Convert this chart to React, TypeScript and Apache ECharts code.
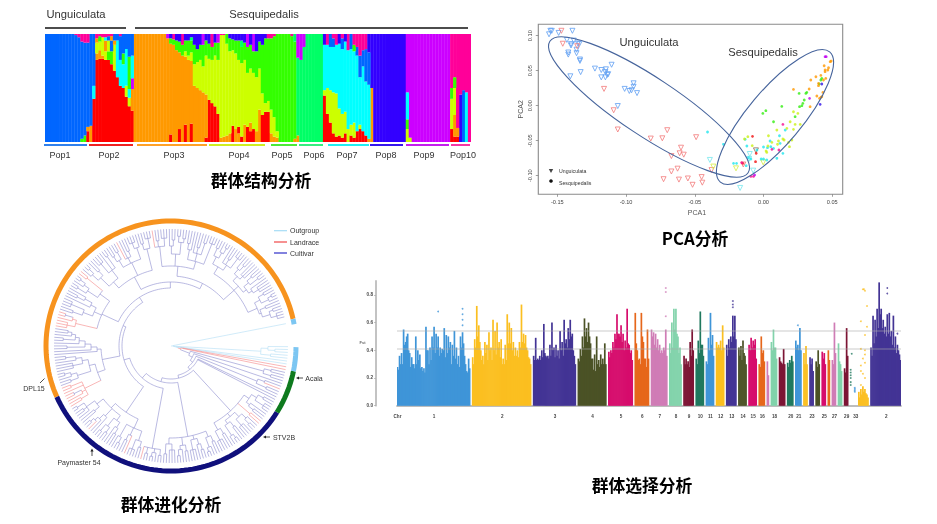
import React, { useEffect, useRef } from "react";
import * as echarts from "echarts";

/* ---------- Panel 1: population structure (segments bottom-to-top, "*n" repeats a column) ---------- */
const ancestryColors: Record<string, string> = {
  r: "#FF0000", o: "#FF9900", l: "#CCFF00", g: "#33FF00", s: "#00FF66",
  c: "#00FFFF", b: "#0066FF", u: "#3300FF", v: "#CC00FF", m: "#FF0099",
};
const pop1Columns = ["b100*10", "b99 m1", "b97 m3", "g3 b90 m7", "g6 b86 m8", "r10 o4 b78 m8", "o15 b85"];
const pop2Columns = ["r40 c12 b48", "r76 o6 l10 o4 m4", "r77 o8 l8 g5 m2", "r77 o3 l17 m3", "r76 l8 o10 c3 m3", "r76 g8 l10 b4 m2", "r72 g12 b10 o4 m2", "r66 l24 o4 b6", "r60 c34 b6", "r52 c24 b22 m2", "r50 c22 g10 b18", "r42 l10 c34 b14", "r33 l8 c8 g30 b21", "r29 o20 v10 c21 b20"];
const pop3Columns = ["o100*11", "o96 v4", "r7 o84 g5 u4", "o90 g5 m5", "o85 g9 u6", "r12 o71 g10 u7", "o80 g10 m10", "r16 o63 l5 g10 u6", "o76 l4 g14 u6", "r17 o58 l8 g11 s3 u3", "o52 l20 g18 u10", "o50 l24 g12 u14", "o48 l28 g14 u10", "o46 l24 g20 v10", "r4 o40 l36 g14 u6"];
const pop4Columns = ["r39 l38 g14 u9", "r36 l40 g12 m12", "r33 l47 g12 u8", "r26 l50 g16 v8", "o4 l95 m1", "o5 l94 m1", "o6 l85 g9", "o8 l76 g12 u4", "r15 l70 g10 u5", "o12 l70 g12 u6", "o8 r6 l62 g18 u6", "r5 l68 g15 s6 u6", "o16 l60 g16 u8", "r14 l50 g24 v12", "r10 o8 l50 g22 u10", "r12 l52 g20 v16", "o10 l50 g24 u16", "o30 l38 g25 u7", "r25 l20 g45 u10", "r28 l8 g60 u4"];
const pop5Columns = ["r28 l10 g58 m4", "o8 l22 g66 m4", "o5 l18 g75 m2", "o4 l6 g90", "g100*4", "g98 m2", "o3 g90 s7"];
const pop6Columns = ["o6 s72 v22", "s76 v24", "s88 v12", "s100*6"];
const pop7Columns = ["r43 l5 c42 u10", "r26 l24 c40 m10", "r18 l30 c40 b12", "r8 l38 c42 b8 m4", "r5 l40 c45 m10", "r6 l25 c60 u9", "r4 l22 c60 b10 m4", "r8 l20 c65 u7", "l12 c73 m15", "r6 l10 c70 b14", "r4 l14 c66 g6 m10", "r10 c70 b8 m12", "r12 l4 c44 b20 m20", "r10 c60 b15 m15", "r6 c50 b30 m14", "o3 c50 b30 u17"];
const pop8Columns = ["o50 u50", "u100*11"];
const pop9Columns = ["l12 g9 c25 v54", "l4 v96", "v100*13"];
const pop10Columns = ["r12 l28 g10 m50", "r5 o20 l25 g10 m40", "r5 o8 m87", "u44 m56", "b48 m52", "c46 m54", "m100"];

const popNames = ["Pop1", "Pop2", "Pop3", "Pop4", "Pop5", "Pop6", "Pop7", "Pop8", "Pop9", "Pop10"];
const popLineColors = ["#2f80ed", "#f02020", "#ffa126", "#cfee20", "#38e820", "#20ec70", "#20eef0", "#3515ee", "#c41cee", "#f5209a"];
const popLineSpans = [[44, 87], [89, 133], [137, 207], [209, 265], [271, 297], [299, 323], [328, 369], [370, 403], [406, 449], [451, 470]];
const popLabelCenters = [60, 109, 174, 239, 282, 314, 347, 386, 424, 463];

/* ---------- Panel 2: PCA ---------- */
type P = [number, number];
const triBlue: P[] = [[-0.155, 0.107], [-0.154, 0.107], [-0.156, 0.102], [-0.149, 0.104], [-0.139, 0.107], [-0.143, 0.094], [-0.138, 0.093], [-0.14, 0.088], [-0.14, 0.086], [-0.135, 0.089], [-0.134, 0.088], [-0.136, 0.08], [-0.136, 0.075], [-0.142, 0.076], [-0.142, 0.073], [-0.1335, 0.066], [-0.1335, 0.064], [-0.133, 0.048], [-0.1405, 0.042], [-0.1226, 0.053], [-0.118, 0.051], [-0.1146, 0.052], [-0.115, 0.048], [-0.113, 0.045], [-0.1136, 0.044], [-0.118, 0.0405], [-0.115, 0.0405], [-0.1105, 0.0585], [-0.101, 0.024], [-0.0976, 0.021], [-0.096, 0.022], [-0.0945, 0.032], [-0.0945, 0.027], [-0.092, 0.018], [-0.106, -0.0005]];
const triRed: P[] = [[-0.147, 0.107], [-0.146, 0.0885], [-0.1355, 0.085], [-0.116, 0.024], [-0.109, -0.0065], [-0.106, -0.034], [-0.082, -0.047], [-0.0736, -0.0466], [-0.07, -0.035], [-0.049, -0.045], [-0.06, -0.06], [-0.061, -0.068], [-0.058, -0.07], [-0.067, -0.072], [-0.0625, -0.09], [-0.067, -0.094], [-0.0727, -0.105], [-0.0615, -0.1056], [-0.055, -0.104], [-0.0516, -0.113], [-0.045, -0.102], [-0.0445, -0.11], [-0.0378, -0.092], [-0.0147, -0.084]];
const triCyan: P[] = [[-0.039, -0.0775], [-0.017, -0.1175], [-0.01, -0.069], [-0.0105, -0.076], [-0.0075, -0.0928]];
const triLime: P[] = [[-0.02, -0.0895], [-0.0365, -0.087], [-0.0002, -0.081]];
const triBrown: P[] = [[-0.0055, -0.0638]];
const dotCyan: P[] = [[-0.0407, -0.0376], [-0.0291, -0.0552], [-0.0133, -0.0481], [-0.0121, -0.0576], [-0.0218, -0.0824], [-0.0196, -0.0824], [-0.0126, -0.0857], [-0.0109, -0.0743], [-0.0092, -0.0762], [-0.0017, -0.0762], [0, -0.0762], [0.0024, -0.0776], [0.0029, -0.06], [0, -0.059], [0.0048, -0.0505], [0.0073, -0.061], [0.0097, -0.0752], [0.0141, -0.0681], [0.0121, -0.0538], [0.0158, -0.0348], [0.0116, -0.0429], [0.0053, -0.0586], [-0.0048, -0.0633]];
const dotLime: P[] = [[-0.0114, -0.0443], [-0.0138, -0.0476], [-0.0082, -0.0571], [0.0019, -0.0648], [0.0024, -0.0667], [0.0036, -0.0429], [0.0097, -0.0348], [0.0109, -0.0505], [0.0102, -0.0552], [0.015, -0.049], [0.0182, -0.0524], [0.0141, -0.0476], [0.0206, -0.049], [0.0189, -0.0586], [0.017, -0.0324], [0.0194, -0.0229], [0.0218, -0.0338], [0.023, -0.0267], [0.0267, -0.0267], [0.0218, -0.0086], [0.025, -0.011], [0.0061, -0.0524], [0.0032, -0.0576]];
const dotGreen: P[] = [[0.0017, -0.0071], [-0.0005, -0.011], [0.0073, -0.0229], [0.0133, -0.001], [0.023, -0.0157], [0.0262, -0.0014], [0.0279, 0], [0.0286, 0.0033], [0.0296, 0.0081], [0.0259, 0.0176], [0.0308, 0.0176], [0.0315, 0.019], [0.0417, 0.0367], [0.0424, 0.039], [0.0405, 0.031]];
const dotOrange: P[] = [[0.0218, 0.0233], [0.0332, 0.0238], [0.0339, -0.0014], [0.0344, 0.0367], [0.0381, 0.0414], [0.0388, 0.0138], [0.04, 0.0319], [0.04, 0.0286], [0.0407, 0.0105], [0.0417, 0.0119], [0.0424, 0.0129], [0.0417, 0.0433], [0.0436, 0.0367], [0.0453, 0.039], [0.0432, 0.019], [0.0441, 0.0571], [0.0448, 0.051], [0.0473, 0.0543], [0.0485, 0.0629], [0.0492, 0.0638], [0.0468, 0.051], [0.0448, 0.0486]];
const dotRed: P[] = [[-0.008, -0.0438], [-0.0053, -0.0681], [-0.0058, -0.08], [-0.015, -0.0824]];
const dotMagenta: P[] = [[0.0141, -0.0267], [0.0061, -0.0624], [0.0112, -0.0633], [-0.0158, -0.0814], [-0.0073, -0.101], [-0.0092, -0.101]];
const dotViolet: P[] = [[0.0448, 0.07], [0.0456, 0.07], [0.0335, 0.0105], [-0.0065, -0.099]];
const dotIndigo: P[] = [[0.0424, 0.031], [0.0412, 0.0019]];
const pcaTicksX = [-0.15, -0.1, -0.05, 0, 0.05];
const pcaTicksY = [-0.1, -0.05, 0, 0.05, 0.1];

/* ---------- Panel 3: phylogeny, as a nested list: (r = cultivar node, [r = landrace node, {r = outgroup node at radius r; . ! ~ leaves; _ empty leaf slot ---------- */
const cladeOutgroupComb = "{90{97 .{104 ..}}{100 ..}}";
const cladeGreenA = "(96(103 ..)(104 ..))";
const cladeGreenB = "(93(100 .!)(104 ..))";
const cladeN1 = "(88(94(100(106 ..)(110 ...))(98 .(104 ..)))[104 !!](92(98(104 .(110 ..))(106 ...))(96(102 ..)(108(112 ..).)))(96(102 ..)(106 ...)))";
const cladeN2 = "(92(98(104 ..)(108 .(112 ..)))(96(102(108 ..).)(106 ...))(100(106 ..)(104 .(110 ..)))(98(104 ...)(108 ..)))";
const cladeN3 = "(104(110 ..)(108 .(112 ..))(110 ..)!)";
const cladeN4 = "(80(90(100(106 ..)(110 ...))(98 !(104 ..))(104(110 ..).))(86(92(98(104 ..).)(102(108 ..)(110 ..)))(96 .(102 .(106 !(110 ..))))(94(100 ..)(104 .(108 ..)(112 ..)))))";
const cladeO1 = "(70(78[96[104 !!][100 !(108 !!)]![108 !!]](84(98(106 ..)(104 .(110 ..)))(90(100 ...)(96 .(106 ..)))))(74 .(80 .(86(104 ..)(92 .(96(108 ..)(100 .(104 ..))))))))";
const cladeO2 = "(76[98[106 !!!][102 !(110 !!)]](84(94(104 ..)(108 ...))(90 .(98(106 ..).)))(88(100(110 ..)(106 .(112 ..)))[108 !!]))";
const cladeO3 = "(78(86(98(106 .(112 ..))(104 ..))(96(108 ...).(110 ..)))(92(100(106 ..)(108 ..))(98 !.(104 ..))(104(110 ...).))(100(106 ..)(110 ...)))";
const cladeO4 = "(80(100 !(106 ..)(108 ...))(92(100 .(106 ..))(104(110 ..)(108 ..)))(88(98(104 ..).)(96 .(102 ..)(108 ..))(110 ...)))";
const cladeO5 = "(84(92(100(108 ..)(106 .(112 ..)))(98 .(104 ..)(110 ...)))(90(96(102 .(108 ..))(100 ...))(94(100(106 ..)(110 ..))(98 .(104 ...))))(94(100(106 ..)(108(112 ..).))(96(102 ..)(104(108 ..)(110 ...)))))";
const cladeOrange = `(52${cladeO1}(58${cladeO2}(64${cladeO3}(70${cladeO4}${cladeO5}))))`;
const cladeMain = `(33${cladeN1}(37${cladeN2}(43${cladeN3}(49${cladeN4}${cladeOrange}))))`;
const treeNested = `{2 ~_______{3${cladeOutgroupComb}{5 ~{7 ~[10[12 !!](20${cladeGreenA}(24 .(27${cladeGreenB}(30 ..${cladeMain}))))]}}}}`;
const treeLeafRadius = 117;
const treeFirstAngle = 11;
const treeSweep = 358;
const treeColors = ["#9494d2", "#f59090", "#b8e0f6"];
const treeRing: [number, number, string][] = [
  [12.5, 204, "#F7931E"], [204, 328, "#10107C"], [328, 348.4, "#0E7A1E"],
  [348.4, 359.5, "#7CC6F2"], [10, 12.5, "#7CC6F2"],
];

/* ---------- Panel 4: selection scan, per-chromosome peak heights ---------- */
const chr1 = [0.28, 0.26, 0.36, 0.3, 0.38, 0.3, 0.55, 0.44, 0.46, 0.5, 0.52, 0.4, 0.38, 0.28, 0.35, 0.3, 0.3, 0.27, 0.5, 0.3, 0.4, 0.33, 0.37, 0.27, 0.28, 0.25, 0.27, 0.24, 0.57, 0.4, 0.4, 0.3, 0.42, 0.33, 0.5, 0.42, 0.57, 0.38, 0.52, 0.42, 0.5, 0.36, 0.42, 0.38, 0.41, 0.4, 0.56, 0.35, 0.51, 0.38, 0.5, 0.42, 0.46, 0.3, 0.44, 0.36, 0.54, 0.34, 0.42, 0.3, 0.36, 0.28, 0.5, 0.42, 0.53, 0.45, 0.36, 0.3, 0.25, 0.24, 0.34, 0.27];
const chr2 = [0.35, 0.3, 0.48, 0.42, 0.72, 0.5, 0.58, 0.46, 0.4, 0.33, 0.36, 0.3, 0.46, 0.38, 0.44, 0.33, 0.53, 0.4, 0.42, 0.33, 0.62, 0.4, 0.54, 0.37, 0.6, 0.42, 0.46, 0.35, 0.48, 0.3, 0.34, 0.3, 0.44, 0.33, 0.66, 0.45, 0.6, 0.45, 0.56, 0.4, 0.46, 0.36, 0.42, 0.36, 0.4, 0.35, 0.46, 0.42, 0.73, 0.46, 0.52, 0.45, 0.51, 0.42, 0.4, 0.35, 0.34, 0.3];
const chr3 = [0.36, 0.33, 0.49, 0.33, 0.34, 0.33, 0.36, 0.33, 0.4, 0.35, 0.59, 0.38, 0.36, 0.35, 0.36, 0.34, 0.44, 0.36, 0.6, 0.4, 0.42, 0.35, 0.44, 0.36, 0.4, 0.34, 0.54, 0.4, 0.46, 0.36, 0.62, 0.45, 0.48, 0.42, 0.56, 0.48, 0.62, 0.5, 0.52, 0.4, 0.36, 0.3];
const chr4 = [0.34, 0.32, 0.41, 0.36, 0.5, 0.42, 0.63, 0.5, 0.56, 0.46, 0.6, 0.5, 0.45, 0.34, 0.34, 0.26, 0.37, 0.25, 0.5, 0.3, 0.33, 0.28, 0.37, 0.3, 0.34, 0.3, 0.45, 0.3];
const chr5 = [0.39, 0.35, 0.4, 0.38, 0.46, 0.42, 0.52, 0.48, 0.66, 0.52, 0.52, 0.5, 0.58, 0.46, 0.52, 0.4, 0.47, 0.42, 0.7, 0.45, 0.44, 0.38, 0.4, 0.33];
const chr6 = [0.67, 0.45, 0.4, 0.33, 0.34, 0.3, 0.67, 0.5, 0.46, 0.34, 0.34, 0.28, 0.55, 0.34];
const chr7 = [0.55, 0.5, 0.53, 0.44, 0.52, 0.42, 0.48, 0.4, 0.44, 0.38, 0.4, 0.38, 0.42, 0.4, 0.55, 0.36];
const chr8 = [0.45, 0.38, 0.6, 0.42, 0.7, 0.55, 0.7, 0.52, 0.5, 0.38, 0.42, 0.3];
const chr9 = [0.36, 0.3, 0.34, 0.3, 0.32, 0.28, 0.46, 0.36, 0.55, 0.4];
const chr10 = [0.34, 0.3, 0.47, 0.38, 0.68, 0.44, 0.44, 0.36];
const chr11 = [0.32, 0.3, 0.49, 0.4, 0.67, 0.44, 0.51, 0.36];
const chr12 = [0.46, 0.42, 0.44, 0.42, 0.47, 0.4, 0.58, 0.42];
const chr13 = [0.44, 0.36, 0.48, 0.42, 0.5, 0.46, 0.65, 0.5, 0.65, 0.48];
const chr14 = [0.42, 0.36, 0.43, 0.33, 0.47, 0.38, 0.36, 0.3];
const chr15 = [0.44, 0.4, 0.49, 0.42, 0.47, 0.44, 0.48, 0.34];
const chr16 = [0.3, 0.28, 0.5, 0.38, 0.4, 0.32];
const chr17 = [0.32, 0.22];
const chr18 = [0.46, 0.4, 0.55, 0.42, 0.42, 0.34];
const chr19 = [0.35, 0.32, 0.31, 0.3, 0.41, 0.3];
const chr20 = [0.31, 0.28, 0.33, 0.31, 0.36, 0.32];
const chr21 = [0.47, 0.42, 0.44, 0.4, 0.56, 0.4];
const chr22 = [0.38, 0.3, 0.43, 0.3];
const chr23 = [0.35, 0.3, 0.34, 0.25];
const chr24 = [0.32, 0.28, 0.4, 0.3];
const chr25 = [0.39, 0.34, 0.38, 0.3];
const chr26 = [0.4, 0.33];
const chr27 = [0.33, 0.3, 0.6, 0.38];
const chr28 = [0.45, 0.32, 0.3, 0.25];
const chr29 = [0.27, 0.24, 0.56, 0.36];
const chr30: number[] = [0, 0];
const chr31: number[] = [0, 0];
const chr32 = [0.1, 0.06, 0.12, 0.08, 0.14, 0.1, 0.12, 0.09, 0.08, 0.06];
const chrZ = [0.42, 0.36, 0.65, 0.45, 0.62, 0.5, 0.7, 0.56, 0.89, 0.66, 0.7, 0.56, 0.62, 0.52, 0.57, 0.5, 0.66, 0.52, 0.67, 0.5, 0.54, 0.44, 0.65, 0.42, 0.5, 0.38, 0.44, 0.4, 0.37, 0.33];
const chromosomes = [chr1, chr2, chr3, chr4, chr5, chr6, chr7, chr8, chr9, chr10, chr11, chr12, chr13, chr14, chr15, chr16, chr17, chr18, chr19, chr20, chr21, chr22, chr23, chr24, chr25, chr26, chr27, chr28, chr29, chr30, chr31, chr32, chrZ];
const chrLabels = ["1", "2", "3", "4", "5", "6", "7", "8", "9", "10", "11", "12", "13", "14", "15", "16", "", "18", "", "20", "21", "", "23", "", "25", "", "27", "", "29", "", "33", "", "2"];
const chrPalette = ["#3f95d8", "#fbbf20", "#433495", "#4b5226", "#d60c6c", "#e6671b", "#d07cb6", "#82d3ab", "#7d1535", "#20795f"];
// [chromosome index, bin within chromosome, Fst]
const chrOutliers: [number, number, number][] = [
  [0, 40, 0.68], [0, 64, 0.7], [0, 64, 0.66], [0, 64, 0.62], [0, 64, 0.58], [6, 14, 0.85], [6, 14, 0.82], [6, 14, 0.645],
  [12, 6, 0.755], [12, 6, 0.73], [12, 6, 0.71], [20, 2, 0.58], [29, 0, 0.26], [29, 0, 0.24], [29, 0, 0.22], [29, 0, 0.2], [29, 0, 0.17], [29, 0, 0.15], [29, 1, 0.375],
  [30, 0, 0.13], [30, 0, 0.12], [30, 0, 0.11], [30, 0, 0.1],
  [31, 4, 0.84], [31, 5, 0.84], [31, 6, 0.83], [31, 8, 0.72], [31, 2, 0.61], [31, 8, 0.57], [31, 6, 0.51], [31, 2, 0.41], [31, 6, 0.4], [31, 4, 0.34], [31, 6, 0.31], [31, 2, 0.25], [31, 4, 0.23], [31, 6, 0.2], [31, 2, 0.15], [31, 2, 0.29], [31, 6, 0.37],
  [32, 16, 0.85], [32, 16, 0.81], [32, 26, 0.52],
];
const fstTicks = [0, 0.2, 0.4, 0.6, 0.8];
const fstThresholds = [0.54, 0.405];

/* ---------- Builders ---------- */
const structureColumns = (() => {
  const out: { letter: string; h: number }[][] = [];
  [pop1Columns, pop2Columns, pop3Columns, pop4Columns, pop5Columns, pop6Columns, pop7Columns, pop8Columns, pop9Columns, pop10Columns].forEach((pop) =>
    pop.forEach((spec) => {
      const [body, rep] = spec.split("*");
      const segs = body.trim().split(/\s+/).map((t) => ({ letter: t[0], h: Number(t.slice(1)) }));
      const sum = segs.reduce((a, s) => a + s.h, 0);
      const col = segs.map((s) => ({ letter: s.letter, h: (s.h / sum) * 100 }));
      for (let i = 0; i < Number(rep || 1); i++) out.push(col);
    })
  );
  return out;
})();

function buildTree(src: string): number[][] {
  const segs: number[][] = [];
  const slots = (src.match(/[.!~_]/g) || []).length;
  const step = treeSweep / slots;
  let i = 0;
  let cursor = treeFirstAngle;
  const leafOf: Record<string, number> = { "!": 1, "~": 2 };
  const kindOf: Record<string, number> = { "(": 0, "[": 1, "{": 2 };
  const parseNode = (kind: number, parentR: number): number => {
    let num = "";
    while (i < src.length && /[0-9]/.test(src[i])) num += src[i++];
    const r = Number(num);
    let first: number | null = null;
    let last = 0;
    while (i < src.length) {
      const ch = src[i++];
      if (ch === ")" || ch === "]" || ch === "}") break;
      if (ch === " ") continue;
      if (ch === "_") { cursor -= step; continue; }
      let a: number;
      if (ch === "(" || ch === "[" || ch === "{") {
        a = parseNode(kindOf[ch], r);
      } else {
        a = cursor;
        cursor -= step;
        segs.push([0, r, treeLeafRadius, a, a, ch === "." ? kind : leafOf[ch]]);
      }
      if (first === null) first = a;
      last = a;
    }
    const angle = ((first as number) + last) / 2;
    segs.push([1, r, r, first as number, last, kind]);
    segs.push([0, parentR, r, angle, angle, kind]);
    return angle;
  };
  i = 1;
  parseNode(kindOf[src[0]], 0);
  return segs;
}

const polarPolyline = (params: any, api: any, kind: number, r1: number, r2: number, a1: number, a2: number) => {
  const pts: number[][] = [];
  if (kind === 0) {
    const a = ((a1 % 360) + 360) % 360;
    pts.push(api.coord([r1, a]).slice(0, 2), api.coord([r2, a]).slice(0, 2));
  } else {
    const n = Math.max(1, Math.ceil(Math.abs(a2 - a1) / 2));
    for (let k = 0; k <= n; k++) {
      const a = a1 + ((a2 - a1) * k) / n;
      pts.push(api.coord([r1, ((a % 360) + 360) % 360]).slice(0, 2));
    }
  }
  return pts;
};

const FONT = "'Liberation Sans', Arial, sans-serif";
const CJK = "'Noto Sans CJK SC', sans-serif";

function buildOption() {
  const maxSeg = Math.max(...structureColumns.map((c) => c.length));
  const structureSeries = Array.from({ length: maxSeg }, (_, s) => ({
    type: "bar",
    xAxisIndex: 0,
    yAxisIndex: 0,
    stack: "q",
    barWidth: 3.3,
    silent: true,
    data: structureColumns.map((col) =>
      col[s] ? { value: col[s].h, itemStyle: { color: ancestryColors[col[s].letter] } } : { value: 0 }
    ),
  }));

  const bins: any[] = [];
  const binLabels: string[] = [];
  const chrStart: number[] = [];
  chromosomes.forEach((chr, ci) => {
    chrStart.push(bins.length);
    chr.forEach((v, k) => {
      bins.push({ value: v, itemStyle: { color: chrPalette[ci % chrPalette.length] } });
      binLabels.push(k === Math.floor(chr.length / 2) ? chrLabels[ci] : "");
    });
    if (ci < chromosomes.length - 1) {
      bins.push({ value: 0 }, { value: 0 });
      binLabels.push("", "");
    }
  });
  binLabels[0] = "Chr";
  const outlierData = chrOutliers.map(([c, b, v]) => ({ value: [chrStart[c] + b, v], itemStyle: { color: chrPalette[c % chrPalette.length] } }));

  const tri = (data: P[], color: string) => ({
    type: "scatter", xAxisIndex: 1, yAxisIndex: 1, data, symbol: "triangle", symbolRotate: 180, symbolSize: 5, silent: true,
    itemStyle: { color: "rgba(255,255,255,0)", borderColor: color, borderWidth: 1 },
  });
  const dot = (data: P[], color: string) => ({
    type: "scatter", xAxisIndex: 1, yAxisIndex: 1, data, symbol: "circle", symbolSize: 2.8, silent: true, itemStyle: { color },
  });

  const text = (t: string, x: number, y: number, size: number, extra: any = {}) => ({
    type: "text", x, y, silent: true,
    style: { text: t, fontSize: size, fontFamily: FONT, fill: "#333", align: "center", verticalAlign: "middle", ...extra },
  });
  const title = (t: string, x: number, y: number) => text(t, x, y, 16.8, { fontFamily: CJK, fontWeight: "bold", fill: "#000" });
  const line = (x1: number, y1: number, x2: number, y2: number, stroke: string, lineWidth: number) => ({
    type: "line", silent: true, shape: { x1, y1, x2, y2 }, style: { stroke, lineWidth },
  });
  const arrowHead = (x: number, y: number, dx: number, dy: number) => ({
    type: "polygon", silent: true,
    shape: { points: [[x, y], [x - dx * 3 - dy * 1.6, y - dy * 3 - dx * 1.6], [x - dx * 3 + dy * 1.6, y - dy * 3 + dx * 1.6]] },
    style: { fill: "#222" },
  });
  const ellipse = (x: number, y: number, rx: number, ry: number, rotation: number) => ({
    type: "ellipse", x, y, rotation, silent: true, z: 10,
    shape: { cx: 0, cy: 0, rx, ry }, style: { fill: "none", stroke: "#46649c", lineWidth: 1.1 },
  });

  const graphicEls: any[] = [
    line(45, 28, 126, 28, "#111", 1.6), line(135, 28, 468, 28, "#111", 1.6),
    text("Unguiculata", 76, 14, 11.2), text("Sesquipedalis", 264, 14, 11.2),
    ...popNames.flatMap((n, i) => [
      line(popLineSpans[i][0], 145, popLineSpans[i][1], 145, popLineColors[i], 1.8),
      text(n, popLabelCenters[i], 155, 9),
    ]),
    title("群体结构分析", 261, 180),
    ellipse(649, 107, 119, 29, -0.586), ellipse(775, 117, 85, 27, 0.873),
    text("Unguiculata", 649, 42, 11.2), text("Sesquipedalis", 763, 52, 11.2),
    text("Unguiculata", 559, 170.5, 5.2, { align: "left" }), text("Sesquipedalis", 559, 183, 5.2, { align: "left" }),
    { type: "polygon", silent: true, shape: { points: [[548.8, 169], [553.2, 169], [551, 173]] }, style: { fill: "#444" } },
    { type: "circle", silent: true, shape: { cx: 551, cy: 181, r: 1.8 }, style: { fill: "#111" } },
    text("PCA1", 697, 212, 7, { fill: "#555" }),
    title("PCA分析", 695, 238),
    line(274, 230.7, 287, 230.7, "#a5dcf5", 1.2), line(274, 242, 287, 242, "#f04848", 1.2), line(274, 253, 287, 253, "#3030c8", 1.2),
    text("Outgroup", 290, 230.7, 7, { align: "left" }), text("Landrace", 290, 242, 7, { align: "left" }), text("Cultivar", 290, 253, 7, { align: "left" }),
    text("DPL15", 34, 388, 7), line(40, 383, 44.5, 378.5, "#222", 0.8), arrowHead(46, 377, 0.7, -0.7),
    text("Acala", 314, 378, 7), line(303, 378, 298, 378, "#222", 0.8), arrowHead(296, 378, -1, 0),
    text("STV2B", 284, 437, 7), line(270, 437, 265, 437, "#222", 0.8), arrowHead(263, 437, -1, 0),
    text("Paymaster 54", 79, 462, 7), line(92, 456, 92, 451, "#222", 0.8), arrowHead(92, 448.5, 0, -1),
    title("群体进化分析", 171, 504),
    text("Fst", 362.5, 342, 4, { rotation: Math.PI / 2, fontWeight: "bold", fill: "#666" }),
    title("群体选择分析", 642, 485),
  ];

  return {
    animation: false,
    backgroundColor: "#fff",
    grid: [
      { left: 45, top: 34, width: 426, height: 108 },
      { left: 538.3, top: 24.3, width: 304.4, height: 170, show: true, borderColor: "#8a8a8a", borderWidth: 1.1, backgroundColor: "transparent" },
      { left: 397, top: 281, width: 504, height: 124.7 },
    ],
    polar: { center: [171, 346], radius: 130 },
    angleAxis: { type: "value", min: 0, max: 360, startAngle: 0, clockwise: false, show: false },
    radiusAxis: { type: "value", min: 0, max: 130, show: false },
    xAxis: [
      { gridIndex: 0, type: "category", data: structureColumns.map((_, i) => i), show: false, boundaryGap: true },
      {
        gridIndex: 1, type: "value", min: -0.1638, max: 0.0576,
        axisLine: { show: false, onZero: false }, splitLine: { show: false },
        axisTick: { show: true, length: 2.5, customValues: pcaTicksX, lineStyle: { color: "#777", width: 0.7 } },
        axisLabel: { customValues: pcaTicksX, formatter: (v: number) => v.toFixed(2), fontSize: 5.6, margin: 5, color: "#444", fontFamily: FONT },
      },
      {
        gridIndex: 2, type: "category", data: binLabels, offset: 5, boundaryGap: true,
        axisLine: { show: true, lineStyle: { color: "#bdbdbd", width: 1.8 } }, axisTick: { show: false }, splitLine: { show: false },
        axisLabel: { interval: 0, fontSize: 4.6, fontWeight: "bold", color: "#444", margin: 3.5, fontFamily: FONT, hideOverlap: false },
      },
    ],
    yAxis: [
      { gridIndex: 0, type: "value", min: 0, max: 100, show: false },
      {
        gridIndex: 1, type: "value", min: -0.1266, max: 0.1163,
        axisLine: { show: false, onZero: false }, splitLine: { show: false },
        axisTick: { show: true, length: 2.5, customValues: pcaTicksY, lineStyle: { color: "#777", width: 0.7 } },
        axisLabel: { customValues: pcaTicksY, rotate: 90, formatter: (v: number) => v.toFixed(2), fontSize: 5.6, margin: 5, color: "#444", fontFamily: FONT },
        name: "PCA2", nameLocation: "middle", nameGap: 14, nameRotate: 90, nameTextStyle: { fontSize: 7, color: "#555", fontFamily: FONT },
      },
      {
        gridIndex: 2, type: "value", min: 0, max: 0.9, offset: 21,
        axisLine: { show: true, lineStyle: { color: "#bdbdbd", width: 1.8 } }, splitLine: { show: false },
        axisTick: { show: true, length: 2, customValues: fstTicks, lineStyle: { color: "#aaa", width: 0.7 } },
        axisLabel: { customValues: fstTicks, formatter: (v: number) => v.toFixed(1), fontSize: 4.6, fontWeight: "bold", color: "#444", margin: 3, fontFamily: FONT },
      },
    ],
    series: [
      ...structureSeries,
      tri(triBlue, "#5f9ff2"), tri(triRed, "#f27a7a"), tri(triCyan, "#74e6ee"), tri(triLime, "#d6ee44"), tri(triBrown, "#8b6a50"),
      dot(dotCyan, "#1fe6ee"), dot(dotLime, "#cbf017"), dot(dotGreen, "#33ee10"), dot(dotOrange, "#ff9900"),
      dot(dotRed, "#f01010"), dot(dotMagenta, "#f50a90"), dot(dotViolet, "#c000f0"), dot(dotIndigo, "#3010e8"),
      {
        type: "custom", coordinateSystem: "polar", silent: true, clip: false,
        encode: { radius: 1, angle: 3 },
        data: buildTree(treeNested),
        renderItem: (params: any, api: any) => ({
          type: "polyline",
          shape: { points: polarPolyline(params, api, api.value(0), api.value(1), api.value(2), api.value(3), api.value(4)) },
          style: { fill: "none", stroke: treeColors[api.value(5)], lineWidth: 0.65 },
        }),
      },
      {
        type: "custom", coordinateSystem: "polar", silent: true, clip: false,
        encode: { radius: 0, angle: 1 },
        data: treeRing.map(([a1, a2], i) => [125, a1, a2, i]),
        renderItem: (params: any, api: any) => ({
          type: "polyline",
          shape: { points: polarPolyline(params, api, 1, api.value(0), api.value(0), api.value(1), api.value(2)) },
          style: { fill: "none", stroke: treeRing[api.value(3)][2], lineWidth: 5 },
        }),
      },
      {
        type: "bar", xAxisIndex: 2, yAxisIndex: 2, barWidth: 1.7, silent: true, data: bins,
        markLine: {
          silent: true, symbol: "none", animation: false, label: { show: false },
          lineStyle: { color: "rgba(170,170,170,0.3)", width: 2, type: "solid" },
          data: fstThresholds.map((v) => ({ yAxis: v })),
        },
      },
      {
        type: "scatter", xAxisIndex: 2, yAxisIndex: 2, symbolSize: 1.8, silent: true, data: outlierData,
      },
    ],
    graphic: { elements: graphicEls },
  };
}

export default function App() {
  const ref = useRef<HTMLDivElement>(null);
  useEffect(() => {
    const chart = echarts.init(ref.current as HTMLDivElement, undefined, { renderer: "svg" });
    chart.setOption(buildOption() as any);
    return () => chart.dispose();
  }, []);
  return (
    <div
      ref={ref}
      style={{ position: "absolute", left: 0, top: 0, width: 937, height: 524, filter: "blur(0.4px)" }}
    />
  );
}
